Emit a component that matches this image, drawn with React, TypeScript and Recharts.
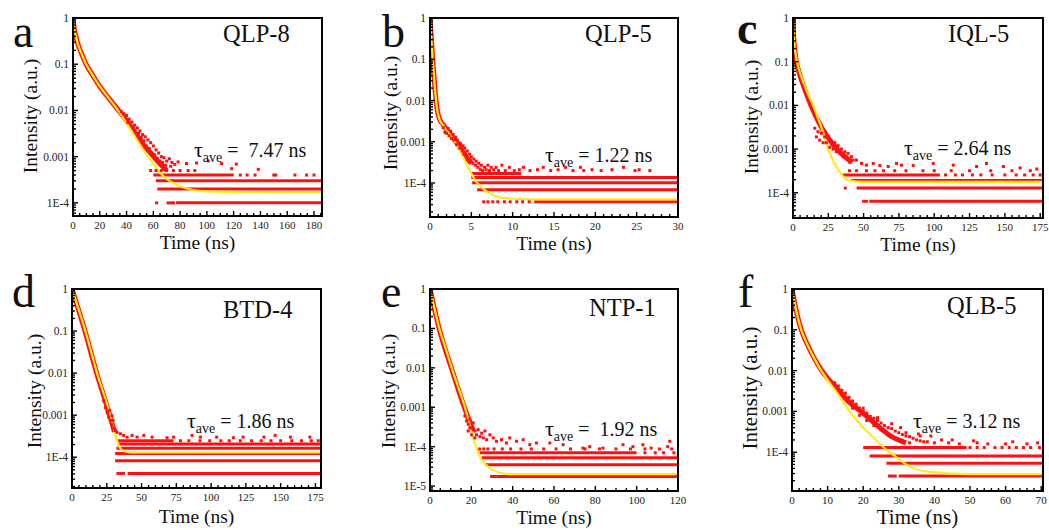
import React from "react";
import { ComposedChart, Line, Scatter, XAxis, YAxis } from "recharts";

type Pt = [number, number];
type Row = [number, number, number]; // level, from (ns), to (ns)

// ---- a: QLP-8
const aFit: Pt[] = [[0, 1], [0.5, 0.72], [1, 0.56], [2, 0.42], [3.7, 0.27], [6, 0.18], [10, 0.097], [15, 0.056], [20, 0.033], [27, 0.018], [33.5, 0.0102], [40, 0.0053], [47, 0.0025], [56, 0.001], [60, 0.0007], [65, 0.00045], [72, 0.0003], [80, 0.00023], [88, 0.000195], [100, 0.000177], [130, 0.000172], [186, 0.00017]];
const aBand: Pt[] = [[0, 1], [1, 0.56], [2, 0.42], [3.7, 0.27], [6, 0.18], [10, 0.097], [15, 0.056], [20, 0.033], [27, 0.018], [33.5, 0.0105], [40, 0.006], [46, 0.0034], [52, 0.0019], [58, 0.0012], [64, 0.00075], [70, 0.0005]];
const aNoise: Pt[] = [[36, 0.0095], [38, 0.0085], [40, 0.0078], [41, 0.0055], [42, 0.0065], [44, 0.0056], [45, 0.0042], [46, 0.0048], [48, 0.0042], [49, 0.0032], [50, 0.0036], [51, 0.0026], [52, 0.003], [53, 0.0022], [54, 0.0027], [55, 0.0017], [56, 0.0023], [57, 0.0015], [58, 0.002], [59, 0.0012], [60, 0.0017], [61, 0.0011], [62, 0.0014], [63, 0.0009], [64, 0.0012], [65, 0.0008], [66, 0.001], [67, 0.00075], [68, 0.00095], [69, 0.00065], [70, 0.0008], [72, 0.0009], [73, 0.00062], [74, 0.00075], [76, 0.00068], [78.5, 0.00077], [84.8, 0.00071], [92.3, 0.00073], [101, 0.00081], [111, 0.00071], [118.5, 0.00055], [122, 0.00069], [138.4, 0.00053], [58, 5e-4], [62, 5e-4], [66, 5e-4], [70, 5e-4], [75, 5e-4], [80, 5e-4], [86, 5e-4], [91, 5e-4], [125, 4e-4], [130, 4e-4], [136, 4e-4], [150, 4e-4], [151.5, 4e-4], [165.8, 4e-4], [174.5, 4e-4], [180, 4e-4], [62.5, 1e-4], [71, 1e-4], [73, 1e-4], [75, 1e-4]];
const aRows: Row[] = [[1e-4, 77, 186], [2e-4, 63, 186], [3e-4, 62, 186], [4e-4, 60, 120]];

// ---- b: QLP-5
const bFit: Pt[] = [[0, 1], [0.15, 0.35], [0.32, 0.1], [0.5, 0.035], [0.73, 0.01], [0.9, 0.0055], [1.2, 0.0033], [1.6, 0.0025], [2, 0.0019], [2.5, 0.0014], [3, 0.001], [3.5, 0.00068], [4, 0.00043], [4.5, 0.00027], [5, 0.00017], [5.5, 0.000115], [6, 0.000087], [6.6, 0.000068], [7.3, 0.000055], [8.5, 0.000045], [10.5, 0.000041], [13, 0.00004], [30, 0.00004]];
const bBand: Pt[] = [[0, 1], [0.15, 0.35], [0.32, 0.1], [0.5, 0.035], [0.73, 0.01], [0.9, 0.0055], [1.2, 0.0034], [1.6, 0.0026], [2, 0.002], [2.5, 0.0015], [3, 0.0011], [3.5, 0.0008], [4, 0.00056], [4.5, 0.0004], [5, 0.0003]];
const bNoise: Pt[] = [[1.6, 0.0022], [1.8, 0.0017], [2.0, 0.0016], [2.2, 0.0021], [2.3, 0.0014], [2.5, 0.0018], [2.6, 0.0012], [2.8, 0.0015], [2.9, 0.0011], [3.1, 0.0013], [3.2, 0.00085], [3.3, 0.0011], [3.5, 0.00095], [3.6, 0.0007], [3.7, 0.0009], [3.9, 0.0006], [4.0, 0.0008], [4.1, 0.0005], [4.2, 0.0007], [4.4, 0.00045], [4.5, 0.0006], [4.6, 0.00038], [4.8, 0.0005], [4.9, 0.00035], [5.0, 0.00043], [5.2, 0.0003], [5.3, 0.00038], [5.5, 0.00027], [5.6, 0.00034], [5.8, 0.00024], [5.9, 0.0003], [6.1, 0.00021], [6.2, 0.00027], [6.4, 0.0002], [6.6, 0.00024], [6.8, 0.00021], [7.0, 0.00027], [7.2, 0.0002], [7.4, 0.00024], [7.7, 0.00021], [8.0, 0.00024], [8.3, 0.0002], [8.7, 0.00027], [9.1, 0.0002], [9.6, 0.00024], [10.2, 0.0002], [10.8, 0.00021], [11.3, 0.00024], [12.1, 0.0002], [13.0, 0.00021], [13.7, 0.00024], [14.6, 0.0002], [15.5, 0.00021], [16.4, 0.00024], [17.3, 0.0002], [18.2, 0.00024], [18.6, 0.0002], [19.6, 0.00021], [20.7, 0.0002], [22.0, 0.00021], [23.4, 0.00024], [24.8, 0.0002], [25.3, 0.00021], [26.6, 0.0002], [6.5, 3.5e-5], [7.0, 3.5e-5], [7.6, 3.5e-5], [8.2, 3.5e-5], [9.0, 3.5e-5], [9.7, 3.5e-5], [10.5, 3.5e-5], [11.2, 3.5e-5], [12.0, 3.5e-5]];
const bRows: Row[] = [[3.5e-5, 12.6, 30], [6.9e-5, 5.7, 30], [1.02e-4, 5.1, 30], [1.36e-4, 5.0, 30], [1.7e-4, 5.0, 11]];

// ---- c: IQL-5
const cFit: Pt[] = [[0, 1], [0.4, 0.45], [1, 0.25], [2, 0.14], [3, 0.095], [5, 0.055], [8, 0.03], [11, 0.017], [14.2, 0.01], [18, 0.0048], [21, 0.0026], [24.8, 0.001], [28, 0.00058], [31, 0.00038], [35, 0.00025], [40, 0.00019], [50, 0.000178], [177, 0.000178]];
const cBand: Pt[] = [[0, 1], [0.4, 0.4], [1, 0.22], [2, 0.12], [5, 0.048], [8, 0.025], [11.8, 0.012], [16, 0.0058], [20, 0.0032], [25, 0.0018], [30, 0.0011], [36, 0.0007], [42, 0.0005]];
const cNoise: Pt[] = [[15.4, 0.003], [16.6, 0.0019], [17.7, 0.0025], [18.9, 0.0016], [20.1, 0.0023], [21.3, 0.0014], [22.5, 0.0019], [23.6, 0.0014], [24.8, 0.0018], [26, 0.0011], [27.2, 0.0015], [28.4, 0.001], [29.6, 0.0014], [30.7, 0.00087], [31.9, 0.0012], [33.1, 0.0008], [34.3, 0.001], [35.5, 0.00067], [36.7, 0.00087], [37.8, 0.00067], [39, 0.0008], [40.2, 0.0005], [41.4, 0.00067], [42.6, 0.00056], [44.9, 0.00056], [48.5, 0.00047], [52, 0.00043], [56.8, 0.00047], [61.5, 0.00042], [67.4, 0.0004], [73.3, 0.00047], [76.8, 0.00043], [85.1, 0.00042], [99.3, 0.00047], [113.5, 0.00043], [130, 0.0004], [137, 0.00047], [149, 0.0004], [160.8, 0.00037], [172.6, 0.00035], [40, 3.2e-4], [45, 3.2e-4], [52, 3.2e-4], [58, 3.2e-4], [64, 3.2e-4], [72, 3.2e-4], [80, 3.2e-4], [92, 3.2e-4], [100, 3.2e-4], [112, 3.2e-4], [125, 3.2e-4], [140, 3.2e-4], [155, 3.2e-4], [168, 3.2e-4], [108, 2.56e-4], [115, 2.56e-4], [120, 2.56e-4], [127, 2.56e-4], [133, 2.56e-4], [141, 2.56e-4], [150, 2.56e-4], [158, 2.56e-4], [164, 2.56e-4], [170, 2.56e-4], [175, 2.56e-4], [37, 1.28e-4], [50, 6.4e-5], [52, 6.4e-5]];
const cRows: Row[] = [[6.4e-5, 54, 177], [1.28e-4, 45, 177], [1.92e-4, 41, 177], [2.56e-4, 35, 104]];

// ---- d: BTD-4
const dFit: Pt[] = [[0, 1], [9.6, 0.1], [18, 0.01], [27.6, 0.001], [30, 0.0005], [32, 0.00027], [34, 0.00018], [37, 0.00014], [42, 0.00013], [179, 0.00013]];
const dBand: Pt[] = [[0, 1], [9.3, 0.1], [17.7, 0.01], [25.5, 0.0015], [28, 0.0008], [30.5, 0.0004]];
const dNoise: Pt[] = [[22.8, 0.0022], [24, 0.0015], [25.2, 0.0012], [25.7, 0.0011], [26.4, 0.0009], [27.1, 0.0013], [27.6, 0.00075], [28.8, 0.0006], [28.8, 0.00097], [29.5, 0.00075], [30, 0.0005], [31.2, 0.00043], [32.4, 0.00039], [34.8, 0.00036], [37.2, 0.00033], [39.6, 0.0003], [43.2, 0.00033], [46.8, 0.0003], [51.6, 0.00033], [57.6, 0.0003], [68.3, 0.00029], [73.1, 0.0003], [86.3, 0.00033], [92.3, 0.0003], [104, 0.0003], [116, 0.00029], [123, 0.0003], [138, 0.0003], [146, 0.00033], [157, 0.0003], [171, 0.0003], [78, 2.46e-4], [84, 2.46e-4], [92, 2.46e-4], [99, 2.46e-4], [107, 2.46e-4], [113, 2.46e-4], [121, 2.46e-4], [129, 2.46e-4], [136, 2.46e-4], [143, 2.46e-4], [150, 2.46e-4], [158, 2.46e-4], [165, 2.46e-4], [172, 2.46e-4], [177, 2.46e-4], [33, 4.1e-5], [35, 4.1e-5], [37, 4.1e-5]];
const dRows: Row[] = [[4.1e-5, 40, 179], [8.2e-5, 31, 179], [1.23e-4, 31, 179], [1.64e-4, 32, 179], [2.05e-4, 33, 179], [2.46e-4, 33, 73]];

// ---- e: NTP-1
const eFit: Pt[] = [[0, 1], [2, 0.35], [4.5, 0.1], [7.5, 0.032], [10.5, 0.01], [13.7, 0.0032], [16.9, 0.001], [19.5, 0.00032], [22.2, 0.0001], [24, 0.000058], [26, 0.00004], [28.5, 0.00003], [31, 0.000025], [35, 0.000021], [40, 0.00002], [120, 0.00002]];
const eBand: Pt[] = [[0, 1], [2, 0.34], [4.4, 0.1], [10.3, 0.01], [16.6, 0.001], [19, 0.00045], [21, 0.00025]];
const eNoise: Pt[] = [[16.9, 0.0006], [17.7, 0.00045], [18.5, 0.00037], [19.3, 0.00049], [20.1, 0.0003], [20.9, 0.0004], [21.7, 0.00025], [22.5, 0.0002], [23.3, 0.00027], [24.2, 0.00018], [25, 0.00022], [25.8, 0.000167], [26.6, 0.00025], [27.4, 0.00015], [29, 0.0002], [30.6, 0.000167], [32.2, 0.000137], [34.6, 0.00015], [37, 0.000124], [38.6, 0.000167], [41.9, 0.000137], [45.1, 0.00015], [48.3, 0.000112], [51.5, 0.000124], [58, 0.000124], [64.4, 0.000112], [74, 0.000092], [77.3, 0.0001], [83.7, 0.000092], [93.4, 0.000112], [98.2, 0.0001], [103, 0.000112], [107, 0.000092], [115, 0.0001], [116, 0.000137], [19.3, 0.0003], [20.9, 0.00027], [21.7, 0.000167], [18.5, 0.00025], [20.1, 0.0002], [24, 8.75e-5], [26, 8.75e-5], [28, 8.75e-5], [31, 8.75e-5], [35, 8.75e-5], [39, 8.75e-5], [44, 8.75e-5], [49, 8.75e-5], [55, 8.75e-5], [61, 8.75e-5], [68, 8.75e-5], [75, 8.75e-5], [82, 8.75e-5], [90, 8.75e-5], [97, 8.75e-5], [104, 8.75e-5], [111, 8.75e-5], [117, 8.75e-5], [104, 7e-5], [109, 7e-5], [113, 7e-5], [118, 7e-5], [29.8, 1.75e-5], [30.6, 1.75e-5], [31.3, 1.75e-5]];
const eRows: Row[] = [[1.75e-5, 32, 120], [3.5e-5, 26.6, 120], [5.25e-5, 25, 120], [7e-5, 24, 100]];

// ---- f: QLB-5
const fFit: Pt[] = [[0, 1], [1, 0.35], [2.6, 0.1], [4, 0.05], [6, 0.022], [8.2, 0.01], [10, 0.0058], [12, 0.0034], [14, 0.0019], [16.2, 0.001], [19, 0.0005], [22, 0.00027], [25, 0.00015], [27.4, 0.0001], [30, 0.000068], [33, 0.000045], [36, 0.000036], [40, 0.000032], [45, 0.00003], [55, 0.000029], [70.5, 0.000029]];
const fBand: Pt[] = [[0, 1], [1, 0.35], [2.6, 0.1], [4, 0.05], [6, 0.022], [8.2, 0.0105], [10, 0.0065], [12, 0.0042], [16, 0.0017], [20, 0.0009], [24, 0.00045], [28, 0.00024], [32, 0.00017]];
const fNoise: Pt[] = [[12, 0.005], [13, 0.0042], [14, 0.0033], [15, 0.0028], [16, 0.0022], [17, 0.0018], [18, 0.0015], [19, 0.0012], [20, 0.001], [21, 0.0009], [22, 0.00075], [23, 0.00068], [24, 0.0006], [25, 0.00052], [26, 0.00045], [27, 0.0004], [28, 0.00038], [29, 0.00033], [30, 0.0003], [31, 0.00027], [32, 0.00025], [33, 0.00024], [34, 0.00022], [35, 0.0002], [36, 0.00019], [37, 0.00018], [38, 0.00018], [40, 0.00017], [17, 0.0012], [19, 0.0008], [21, 0.0006], [23, 0.00045], [25, 0.00035], [27, 0.00028], [29, 0.00022], [31, 0.00019], [33, 0.00017], [20, 0.0012], [24, 0.0007], [28, 0.0005], [32, 0.0003], [36, 0.00025], [30.5, 0.0004], [35.5, 0.00028], [42, 0.0002], [44, 0.00017], [47, 0.00016], [52, 0.00017], [55, 0.00016], [60, 0.00016], [62, 0.00018], [66, 0.00016], [69, 0.00017], [39, 0.00025], [45, 0.0002], [51, 0.00019], [50, 1.3e-4], [52, 1.3e-4], [54, 1.3e-4], [57, 1.3e-4], [59, 1.3e-4], [61, 1.3e-4], [63, 1.3e-4], [65, 1.3e-4], [67, 1.3e-4], [69.5, 1.3e-4], [27.4, 2.6e-5], [28.2, 2.6e-5], [29, 2.6e-5]];
const fRows: Row[] = [[2.6e-5, 30, 70.5], [5.4e-5, 26.5, 70.5], [8.1e-5, 21.8, 70.5], [1.3e-4, 20, 49]];

// ---- panel labels, annotations and axes
const letters = ["a", "b", "c", "d", "e", "f"];
const samples = ["QLP-8", "QLP-5", "IQL-5", "BTD-4", "NTP-1", "QLB-5"];
const tauTexts = [" =  7.47 ns", " = 1.22 ns", " = 2.64 ns", " = 1.86 ns", " =  1.92 ns", " = 3.12 ns"];
const xMaxes = [186, 30, 177, 179, 120, 70.5];
const yMins = [5.2e-5, 1.5e-5, 2.65e-5, 1.85e-5, 7.5e-6, 1.12e-5];
const xMajors = [
  [0, 20, 40, 60, 80, 100, 120, 140, 160, 180],
  [0, 5, 10, 15, 20, 25, 30],
  [0, 25, 50, 75, 100, 125, 150, 175],
  [0, 25, 50, 75, 100, 125, 150, 175],
  [0, 20, 40, 60, 80, 100, 120],
  [0, 10, 20, 30, 40, 50, 60, 70],
];
const xMinorSteps = [5, 1, 5, 5, 5, 2];
const yMajors = [
  [1, 0.1, 0.01, 0.001, 1e-4],
  [1, 0.1, 0.01, 0.001, 1e-4],
  [1, 0.1, 0.01, 0.001, 1e-4],
  [1, 0.1, 0.01, 0.001, 1e-4],
  [1, 0.1, 0.01, 0.001, 1e-4, 1e-5],
  [1, 0.1, 0.01, 0.001, 1e-4],
];

const fits = [aFit, bFit, cFit, dFit, eFit, fFit];
const bands = [aBand, bBand, cBand, dBand, eBand, fBand];
const noises = [aNoise, bNoise, cNoise, dNoise, eNoise, fNoise];
const rows = [aRows, bRows, cRows, dRows, eRows, fRows];

// layout (page pixels)
const boxes = [
  { x: 73, y: 18, w: 249, h: 198 },
  { x: 430, y: 18, w: 248, h: 199 },
  { x: 793, y: 18, w: 250, h: 200 },
  { x: 72, y: 289, w: 249, h: 199 },
  { x: 430, y: 289, w: 248, h: 202 },
  { x: 792, y: 289, w: 251, h: 202 },
];
const letterPos = [[13, 47], [382, 47], [737, 44], [12, 307], [381, 307], [738, 307]];
const titlePos = [[223, 42], [585, 42], [948, 42], [223, 318], [589, 316], [947, 314]];
const tauPos = [[194, 157], [545, 162], [904, 155], [187, 428], [545, 436], [913, 428]];
const xTitleBase = [249, 250, 251, 523, 524, 524];
const yTitlePos = [[37, 116], [397, 113], [758, 117], [41, 391], [395, 391], [757, 388]];
const axisFont = [19.5, 19.5, 19.5, 19.5, 19.5, 21];

const SERIF = "'Liberation Serif', 'Times New Roman', Times, serif";
const RED = "#ff1010";
const YELLOW = "#ffea1c";

const toObj = (pts: Pt[]) => pts.map(([t, y]) => ({ t, y }));
const fmtY = (v: number) => (v >= 0.001 ? String(v) : `1E${Math.round(Math.log10(v))}`);

// minor tick positions between the labelled ones
const linearMinors = (max: number, step: number, majors: number[]) => {
  const out: number[] = [];
  for (let k = 1; k * step < max; k++) {
    const v = +(k * step).toFixed(6);
    if (!majors.includes(v)) out.push(v);
  }
  return out;
};
const logMinors = (lo: number) => {
  const out: number[] = [];
  for (let e = 0; e >= -6; e--) {
    for (let m = 2; m <= 9; m++) {
      const v = m * Math.pow(10, e - 1);
      if (v >= lo && v < 1) out.push(v);
    }
  }
  return out;
};

const square = (p: any) => <rect x={p.cx - 1.5} y={p.cy - 1.5} width={3} height={3} fill={RED} />;

function Panel({ i }: { i: number }) {
  const box = boxes[i];
  const majX = xMajors[i];
  const majY = yMajors[i];
  const xMax = xMaxes[i];
  const yMin = yMins[i];

  const xTick = (p: any) => {
    const v = p.payload.value;
    const major = majX.includes(v);
    return (
      <g>
        <rect x={p.x - 0.7} y={p.y - (major ? 5 : 3)} width={1.4} height={major ? 5 : 3} fill="#000" />
        {major && (
          <text x={p.x} y={p.y + 12.5} textAnchor="middle" fontSize={11} fontFamily={SERIF} fill="#222">
            {v}
          </text>
        )}
      </g>
    );
  };
  const yTick = (p: any) => {
    const v = p.payload.value;
    const major = majY.includes(v);
    return (
      <g>
        <rect x={p.x} y={p.y - 0.7} width={major ? 5 : 3} height={1.4} fill="#000" />
        {major && (
          <text x={p.x - 4} y={p.y + 4} textAnchor="end" fontSize={11.5} fontFamily={SERIF} fill="#222">
            {fmtY(v)}
          </text>
        )}
      </g>
    );
  };

  return (
    <div style={{ position: "absolute", left: box.x - 60, top: box.y - 10 }}>
      <ComposedChart width={box.w + 70} height={box.h + 50} margin={{ top: 10, right: 10, left: 0, bottom: 0 }}>
        <XAxis
          type="number"
          dataKey="t"
          domain={[0, xMax]}
          allowDataOverflow
          ticks={[...majX, ...linearMinors(xMax, xMinorSteps[i], majX)]}
          interval={0}
          tick={xTick}
          tickLine={false}
          axisLine={false}
          tickSize={0}
          tickMargin={0}
          height={40}
        />
        <YAxis
          type="number"
          dataKey="y"
          scale="log"
          domain={[yMin, 1]}
          allowDataOverflow
          ticks={[...majY, ...logMinors(yMin)]}
          interval={0}
          tick={yTick}
          tickLine={false}
          axisLine={false}
          tickSize={0}
          tickMargin={0}
          width={60}
        />
        {rows[i].map(([lv, from, to], k) => (
          <Line
            key={`row${k}`}
            data={[{ t: from, y: lv }, { t: to, y: lv }]}
            dataKey="y"
            stroke={RED}
            strokeWidth={3}
            dot={false}
            isAnimationActive={false}
          />
        ))}
        <Line
          data={toObj(bands[i])}
          dataKey="y"
          type="monotone"
          stroke={RED}
          strokeWidth={5}
          strokeLinejoin="round"
          dot={false}
          isAnimationActive={false}
        />
        <Scatter data={toObj(noises[i])} dataKey="y" fill={RED} shape={square} isAnimationActive={false} />
        <Line
          data={toObj(fits[i])}
          dataKey="y"
          type="monotone"
          stroke={YELLOW}
          strokeWidth={2.2}
          dot={false}
          isAnimationActive={false}
        />
      </ComposedChart>
    </div>
  );
}

export default function App() {
  return (
    <div style={{ position: "absolute", left: 0, top: 0, width: 1049, height: 530, background: "#fff", overflow: "hidden" }}>
      {boxes.map((_, i) => (
        <Panel key={i} i={i} />
      ))}
      {boxes.map((box, i) => (
        <div
          key={`frame${i}`}
          style={{
            position: "absolute",
            left: box.x - 1,
            top: box.y - 1,
            width: box.w + 2,
            height: box.h + 2,
            boxSizing: "border-box",
            border: "2px solid #000",
            pointerEvents: "none",
          }}
        />
      ))}
      <svg width={1049} height={530} style={{ position: "absolute", left: 0, top: 0, pointerEvents: "none" }} fontFamily={SERIF}>
        {boxes.map((box, i) => (
          <g key={i} fill="#111">
            <text x={letterPos[i][0]} y={letterPos[i][1]} fontSize={46} fontWeight={i === 2 ? 700 : 400}>
              {letters[i]}
            </text>
            <text x={titlePos[i][0]} y={titlePos[i][1]} fontSize={24.5}>
              {samples[i]}
            </text>
            <text x={tauPos[i][0]} y={tauPos[i][1]} fontSize={20} style={{ whiteSpace: "pre" }}>
              <tspan fontSize={22}>τ</tspan>
              <tspan fontSize={14} dy={5}>ave</tspan>
              <tspan dy={-5}>{tauTexts[i]}</tspan>
            </text>
            <text x={box.x + box.w / 2} y={xTitleBase[i]} fontSize={axisFont[i]} textAnchor="middle">
              Time (ns)
            </text>
            <text
              transform={`translate(${yTitlePos[i][0]} ${yTitlePos[i][1]}) rotate(-90)`}
              fontSize={axisFont[i]}
              textAnchor="middle"
            >
              Intensity (a.u.)
            </text>
          </g>
        ))}
      </svg>
    </div>
  );
}
